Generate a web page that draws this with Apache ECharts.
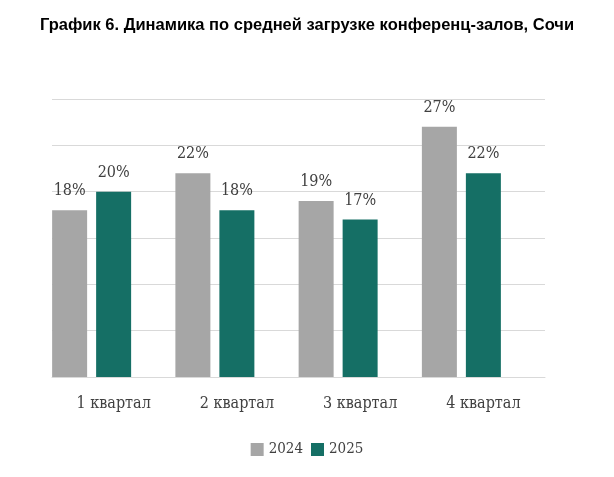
<!DOCTYPE html>
<html>
<head>
<meta charset="utf-8">
<script src="https://cdn.jsdelivr.net/npm/echarts@6/dist/echarts.min.js"></script>
<style>
  html, body { margin: 0; padding: 0; background: #fff; }
  #chart { width: 614px; height: 477px; }
</style>
</head>
<body>
<div id="chart"></div>
<script>
// данные графика
const categories = ['1 квартал', '2 квартал', '3 квартал', '4 квартал']
const values2024 = [18, 22, 19, 27]
const values2025 = [20, 18, 17, 22]
const seriesNames = ['2024', '2025']

const labelFont = '"DejaVu Serif Condensed", "DejaVu Serif", serif'
const textColor = '#404040'

const chart = echarts.init(document.getElementById('chart'))

const valueLabel = {
  show: true,
  position: 'top',
  distance: 11,
  formatter: '{c}%',
  fontFamily: labelFont,
  fontSize: 16,
  color: textColor
}

chart.setOption({
  animation: false,
  title: {
    text: 'График 6. Динамика по средней загрузке конференц-залов, Сочи',
    left: 'center',
    top: 12,
    textStyle: {
      fontFamily: '"Liberation Sans", Arial, sans-serif',
      fontWeight: 'bold',
      fontSize: 16.5,
      color: '#000'
    }
  },
  legend: {
    data: seriesNames,
    top: 437,
    left: 'center',
    itemWidth: 13,
    itemHeight: 13,
    itemGap: 8,
    icon: 'rect',
    textStyle: { fontFamily: labelFont, fontSize: 15, color: textColor }
  },
  grid: { left: 52, right: 69, top: 99, bottom: 100 },
  xAxis: {
    type: 'category',
    data: categories,
    axisLine: { lineStyle: { color: '#D9D9D9' } },
    axisTick: { show: false },
    axisLabel: {
      margin: 19,
      fontFamily: labelFont,
      fontSize: 16,
      color: textColor
    }
  },
  yAxis: {
    type: 'value',
    min: 0,
    max: 30,
    interval: 5,
    axisLabel: { show: false },
    axisLine: { show: false },
    axisTick: { show: false },
    splitLine: { lineStyle: { color: '#D9D9D9' } }
  },
  series: [
    {
      name: seriesNames[0],
      type: 'bar',
      data: values2024,
      barWidth: 35,
      barGap: '25.7%',
      barCategoryGap: '0%',
      itemStyle: { color: '#A6A6A6' },
      label: valueLabel
    },
    {
      name: seriesNames[1],
      type: 'bar',
      data: values2025,
      barWidth: 35,
      itemStyle: { color: '#156F65' },
      label: valueLabel
    },
    {
      // пустой ряд, как в исходной диаграмме (занимает место)
      name: '',
      type: 'bar',
      data: categories.map(() => null),
      barWidth: 35
    }
  ]
})
</script>
</body>
</html>
